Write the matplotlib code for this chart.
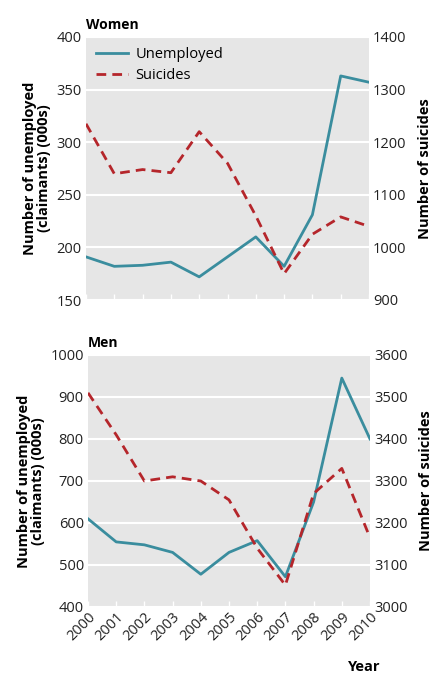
import numpy as np
import matplotlib.pyplot as plt

plt.rcParams['font.family'] = ['Open Sans', 'DejaVu Sans']
plt.rcParams['font.size'] = 10

years = np.arange(2000, 2011)
women_unemployed = [191, 182, 183, 186, 172, 191, 210, 182, 231, 363, 357]
women_suicides = [1235, 1140, 1148, 1142, 1220, 1160, 1060, 950, 1025, 1058, 1040]
men_unemployed = [610, 555, 548, 530, 478, 530, 558, 472, 650, 945, 800]
men_suicides = [3510, 3410, 3300, 3310, 3300, 3255, 3140, 3052, 3270, 3330, 3165]

teal = '#3a8d9e'
red = '#b5262b'
bg = '#e6e6e6'

fig = plt.figure(figsize=(4.35, 6.77), dpi=100)
W, H = 435, 677


def make_panel(rect, unemp, suic, ylim1, yt1, ylim2, yt2, title, bottom):
    ax1 = fig.add_axes(rect)
    ax1.set_facecolor(bg)
    ax2 = ax1.twinx()
    ax1.set_zorder(ax2.get_zorder() - 1)
    ax2.patch.set_visible(False)
    for a in (ax1, ax2):
        for s in a.spines.values():
            s.set_visible(False)
    ax1.set_xlim(2000, 2010)
    ax1.set_ylim(*ylim1)
    ax1.set_yticks(yt1)
    ax2.set_ylim(*ylim2)
    ax2.set_yticks(yt2)
    ax1.grid(axis='y', color='white', lw=1.5)
    ax1.tick_params(axis='y', length=0, pad=3, labelsize=10.5, colors='#222222')
    ax2.tick_params(axis='y', length=0, pad=3, labelsize=10.5, colors='#222222')
    ax1.set_xticks(years)
    ax1.tick_params(axis='x', direction='in', length=4, color='white', width=1)
    if bottom:
        ax1.set_xticklabels(years, rotation=45, ha='right', rotation_mode='anchor',
                            fontsize=10.5, color='#222222')
        ax1.tick_params(axis='x', pad=2)
    else:
        ax1.set_xticklabels([])
    l1, = ax1.plot(years, unemp, color=teal, lw=2, label='Unemployed')
    l2, = ax2.plot(years, suic, color=red, lw=2, ls=(0, (3.5, 2.2)), label='Suicides')
    ax1.set_ylabel('Number of unemployed\n(claimants) (000s)', fontweight='bold',
                   fontsize=10.5, labelpad=4, linespacing=1.0)
    ax2.set_ylabel('Number of suicides', fontweight='bold', fontsize=10.5, labelpad=8)
    ax1.text(0, 1.02, title, transform=ax1.transAxes, fontweight='bold',
             fontsize=10, va='bottom', ha='left')
    return ax1, ax2, l1, l2


ax1, ax2, l1, l2 = make_panel([86 / W, 1 - 300 / H, 283 / W, 263 / H],
                              women_unemployed, women_suicides,
                              (150, 400), [150, 200, 250, 300, 350, 400],
                              (900, 1400), [900, 1000, 1100, 1200, 1300, 1400],
                              'Women', False)
ax2.legend(handles=[l1, l2], loc='upper left', frameon=False, fontsize=10.5,
           handlelength=2.2, handletextpad=0.5, borderaxespad=0.3,
           labelspacing=0.4)

make_panel([88 / W, 1 - 607 / H, 282 / W, 252 / H],
           men_unemployed, men_suicides,
           (400, 1000), [400, 500, 600, 700, 800, 900, 1000],
           (3000, 3600), [3000, 3100, 3200, 3300, 3400, 3500, 3600],
           'Men', True)

fig.text(364 / W, 1 - 667 / H, 'Year', fontweight='bold', fontsize=10.5,
         ha='center', va='center')

plt.savefig('out.png', dpi=100)
